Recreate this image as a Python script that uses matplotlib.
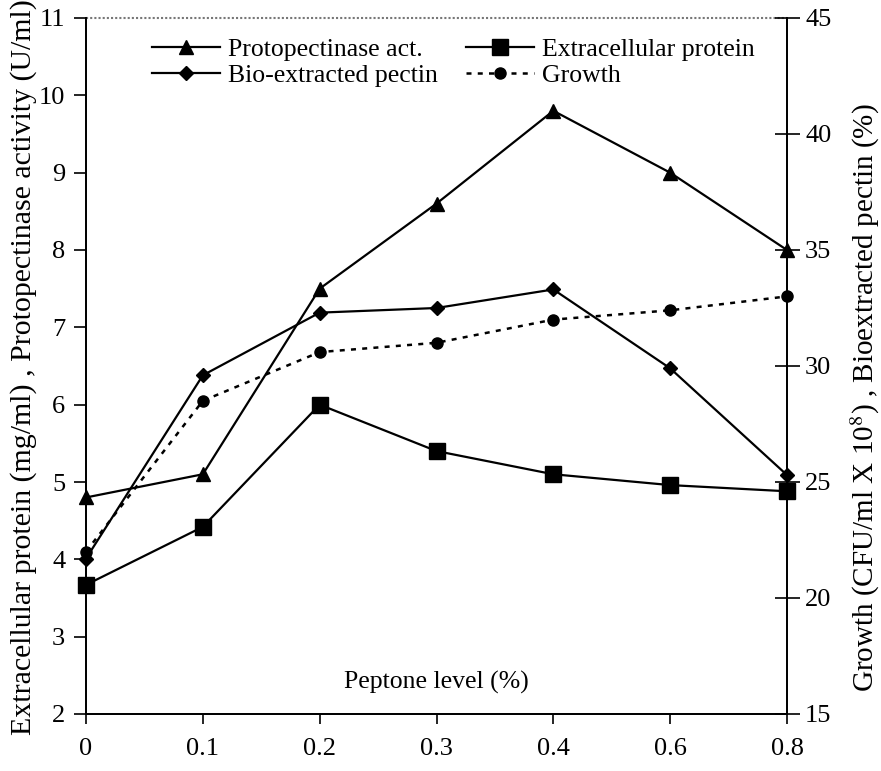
import matplotlib
matplotlib.use("Agg")
import matplotlib.pyplot as plt

plt.rcParams['font.family'] = ['Liberation Serif', 'DejaVu Serif']
plt.rcParams['mathtext.fontset'] = 'stix'

# Data
peptone_levels = ["0", "0.1", "0.2", "0.3", "0.4", "0.6", "0.8"]
protopectinase = [4.8, 5.1, 7.5, 8.6, 9.8, 9.0, 8.0]          # left axis
extracellular_protein = [3.67, 4.42, 6.0, 5.4, 5.1, 4.96, 4.88]  # left axis
bio_pectin = [21.7, 29.6, 32.3, 32.5, 33.3, 29.9, 25.3]        # right axis
growth = [22.0, 28.5, 30.6, 31.0, 32.0, 32.4, 33.0]            # right axis

left_ticks = list(range(2, 12))
right_ticks = [15, 20, 25, 30, 35, 40, 45]

fig = plt.figure(figsize=(8.81, 7.71), dpi=100)
ax = fig.add_axes([86/881, 1-714/771, (787-86)/881, (714-18)/771])
ax2 = ax.twinx()

x = list(range(len(peptone_levels)))

l1, = ax.plot(x, protopectinase, color='black', lw=1.6, marker='^', ms=10,
              label='Protopectinase act.', clip_on=False, zorder=3)
l3, = ax.plot(x, extracellular_protein, color='black', lw=1.6, marker='s', ms=11,
              label='Extracellular protein', clip_on=False, zorder=3)
l2, = ax2.plot(x, bio_pectin, color='black', lw=1.6, marker='D', ms=7,
               label='Bio-extracted pectin', clip_on=False, zorder=3)
l4, = ax2.plot(x, growth, color='black', lw=1.8, marker='o', ms=8,
               linestyle=(0, (2, 2.5)), label='Growth', clip_on=False, zorder=3)

ax.set_xlim(0, len(x) - 1)
ax.set_ylim(2, 11)
ax2.set_ylim(15, 45)
ax.set_xticks(x)
ax.set_xticklabels(peptone_levels)
ax.set_yticks(left_ticks)
ax2.set_yticks(right_ticks)

ax.tick_params(axis='x', direction='out', length=7, width=1.2, labelsize=19, pad=10)
ax.tick_params(axis='y', direction='out', length=9, width=1.2, labelsize=19, pad=6)
ax2.tick_params(axis='y', direction='inout', length=18, width=1.2, labelsize=19, pad=4)

for a in (ax, ax2):
    a.spines['top'].set_visible(False)
    for s in ('left', 'right', 'bottom'):
        a.spines[s].set_linewidth(1.3)
ax.plot([0, 1], [1, 1], transform=ax.transAxes, color='#777777', lw=1.5,
        linestyle=(0, (1, 1)), clip_on=False)

ax.text(0.5, 0.045, 'Peptone level (%)', transform=ax.transAxes, ha='center',
        va='center', fontsize=18.5)

fig.text(24/881, 1-735/771, 'Extracellular protein (mg/ml) , Protopectinase activity (U/ml)',
         rotation=90, ha='center', va='bottom', fontsize=21.5)
fig.text(865/881, 1-692/771, 'Growth (CFU/ml X 10$^{8}$) , Bioextracted pectin (%)',
         rotation=90, ha='center', va='bottom', fontsize=21)

leg = ax.legend(handles=[l1, l2, l3, l4], ncol=2, loc='upper left',
                bbox_to_anchor=((152-86)/701, 1-(38-18)/696), frameon=False,
                fontsize=18.5, handlelength=2.65, handletextpad=0.3,
                columnspacing=1.1, labelspacing=0.1, borderaxespad=0,
                borderpad=0)

fig.savefig('out.png', dpi=100)
